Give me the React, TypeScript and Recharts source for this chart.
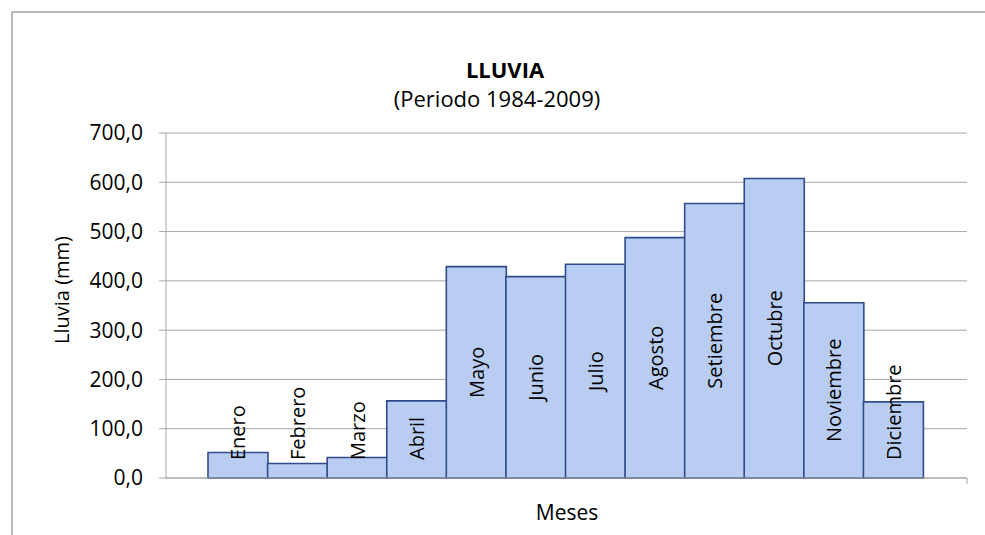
import React from 'react';
import { BarChart, Bar, XAxis, YAxis, CartesianGrid, LabelList } from 'recharts';

const months = [
  'Enero', 'Febrero', 'Marzo', 'Abril', 'Mayo', 'Junio',
  'Julio', 'Agosto', 'Setiembre', 'Octubre', 'Noviembre', 'Diciembre',
];
const rainfall = [51.6, 29.3, 41.5, 156.5, 428.9, 408.5, 433.7, 487.8, 556.9, 607.7, 355.7, 154.5];
const yTicks = [0, 100, 200, 300, 400, 500, 600, 700];

const data = months.map((month, i) => ({ month, lluvia: rainfall[i] }));

const FONT = '"Open Sans", sans-serif';
const LABEL_SIZE = 20;
const GRID = '#a6a6a6';

let measureCtx: CanvasRenderingContext2D | null = null;
function textWidth(s: string): number {
  if (!measureCtx) {
    const c = document.createElement('canvas');
    measureCtx = c.getContext('2d');
  }
  if (!measureCtx) return s.length * LABEL_SIZE * 0.55;
  measureCtx.font = `${LABEL_SIZE}px "Open Sans"`;
  return measureCtx.measureText(s).width;
}

// Month name written vertically, centred in its bar; kept clear of the base when the bar is short.
const MonthLabel = (props: any) => {
  const { x, y, width, height, value } = props;
  const cx = Number(x) + Number(width) / 2;
  const base = Number(y) + Number(height);
  const len = textWidth(String(value));
  const mid = Number(y) + Number(height) / 2;
  const cy = Math.min(mid, base - 18 - len / 2);
  return (
    <text
      x={cx}
      y={cy}
      transform={`rotate(-90, ${cx}, ${cy})`}
      textAnchor="middle"
      dominantBaseline="central"
      fontFamily={FONT}
      fontSize={LABEL_SIZE}
      fill="#000"
    >
      {value}
    </text>
  );
};

export default function App() {
  return (
    <div style={{ position: 'absolute', left: 0, top: 0, width: 985, height: 535, background: '#fff' }}>
      <BarChart
        width={985}
        height={535}
        data={data}
        margin={{ top: 133, right: 18, bottom: 0, left: 0 }}
        barCategoryGap={0}
      >
        <CartesianGrid vertical={false} stroke={GRID} strokeWidth={1} />
        <XAxis
          dataKey="month"
          tick={false}
          tickLine={false}
          axisLine={{ stroke: GRID }}
          height={57}
          padding={{ left: 42, right: 44 }}
        />
        <YAxis
          width={166}
          domain={[0, 700]}
          ticks={yTicks}
          interval={0}
          tickFormatter={(v: number) => v.toFixed(1).replace('.', ',')}
          tick={{ fill: '#000', fontSize: 21, fontFamily: FONT }}
          tickSize={7}
          tickMargin={16}
          tickLine={{ stroke: GRID }}
          axisLine={{ stroke: GRID }}
        />
        <Bar
          dataKey="lluvia"
          fill="#b9cdf2"
          stroke="#2f4b8a"
          strokeWidth={1.6}
          isAnimationActive={false}
        >
          <LabelList dataKey="month" content={MonthLabel} />
        </Bar>
      </BarChart>
      <svg
        width={985}
        height={535}
        style={{ position: 'absolute', left: 0, top: 0, pointerEvents: 'none' }}
      >
        <line x1={12} y1={12} x2={985} y2={12} stroke="#a0a0a0" strokeWidth={1.5} />
        <line x1={12} y1={12} x2={12} y2={535} stroke="#a0a0a0" strokeWidth={1.5} />
        <line x1={967} y1={478} x2={967} y2={484} stroke={GRID} strokeWidth={1} />
        <text x={505} y={69} textAnchor="middle" dominantBaseline="central" fontFamily={FONT} fontSize={22} fontWeight="bold" fill="#000">
          LLUVIA
        </text>
        <text x={497} y={98} textAnchor="middle" dominantBaseline="central" fontFamily={FONT} fontSize={22} fill="#000">
          (Periodo 1984-2009)
        </text>
        <text
          x={61}
          y={290}
          transform="rotate(-90, 61, 290)"
          textAnchor="middle"
          dominantBaseline="central"
          fontFamily={FONT}
          fontSize={20}
          fill="#000"
        >
          Lluvia (mm)
        </text>
        <text x={567} y={512} textAnchor="middle" dominantBaseline="central" fontFamily={FONT} fontSize={21} fill="#000">
          Meses
        </text>
      </svg>
    </div>
  );
}
